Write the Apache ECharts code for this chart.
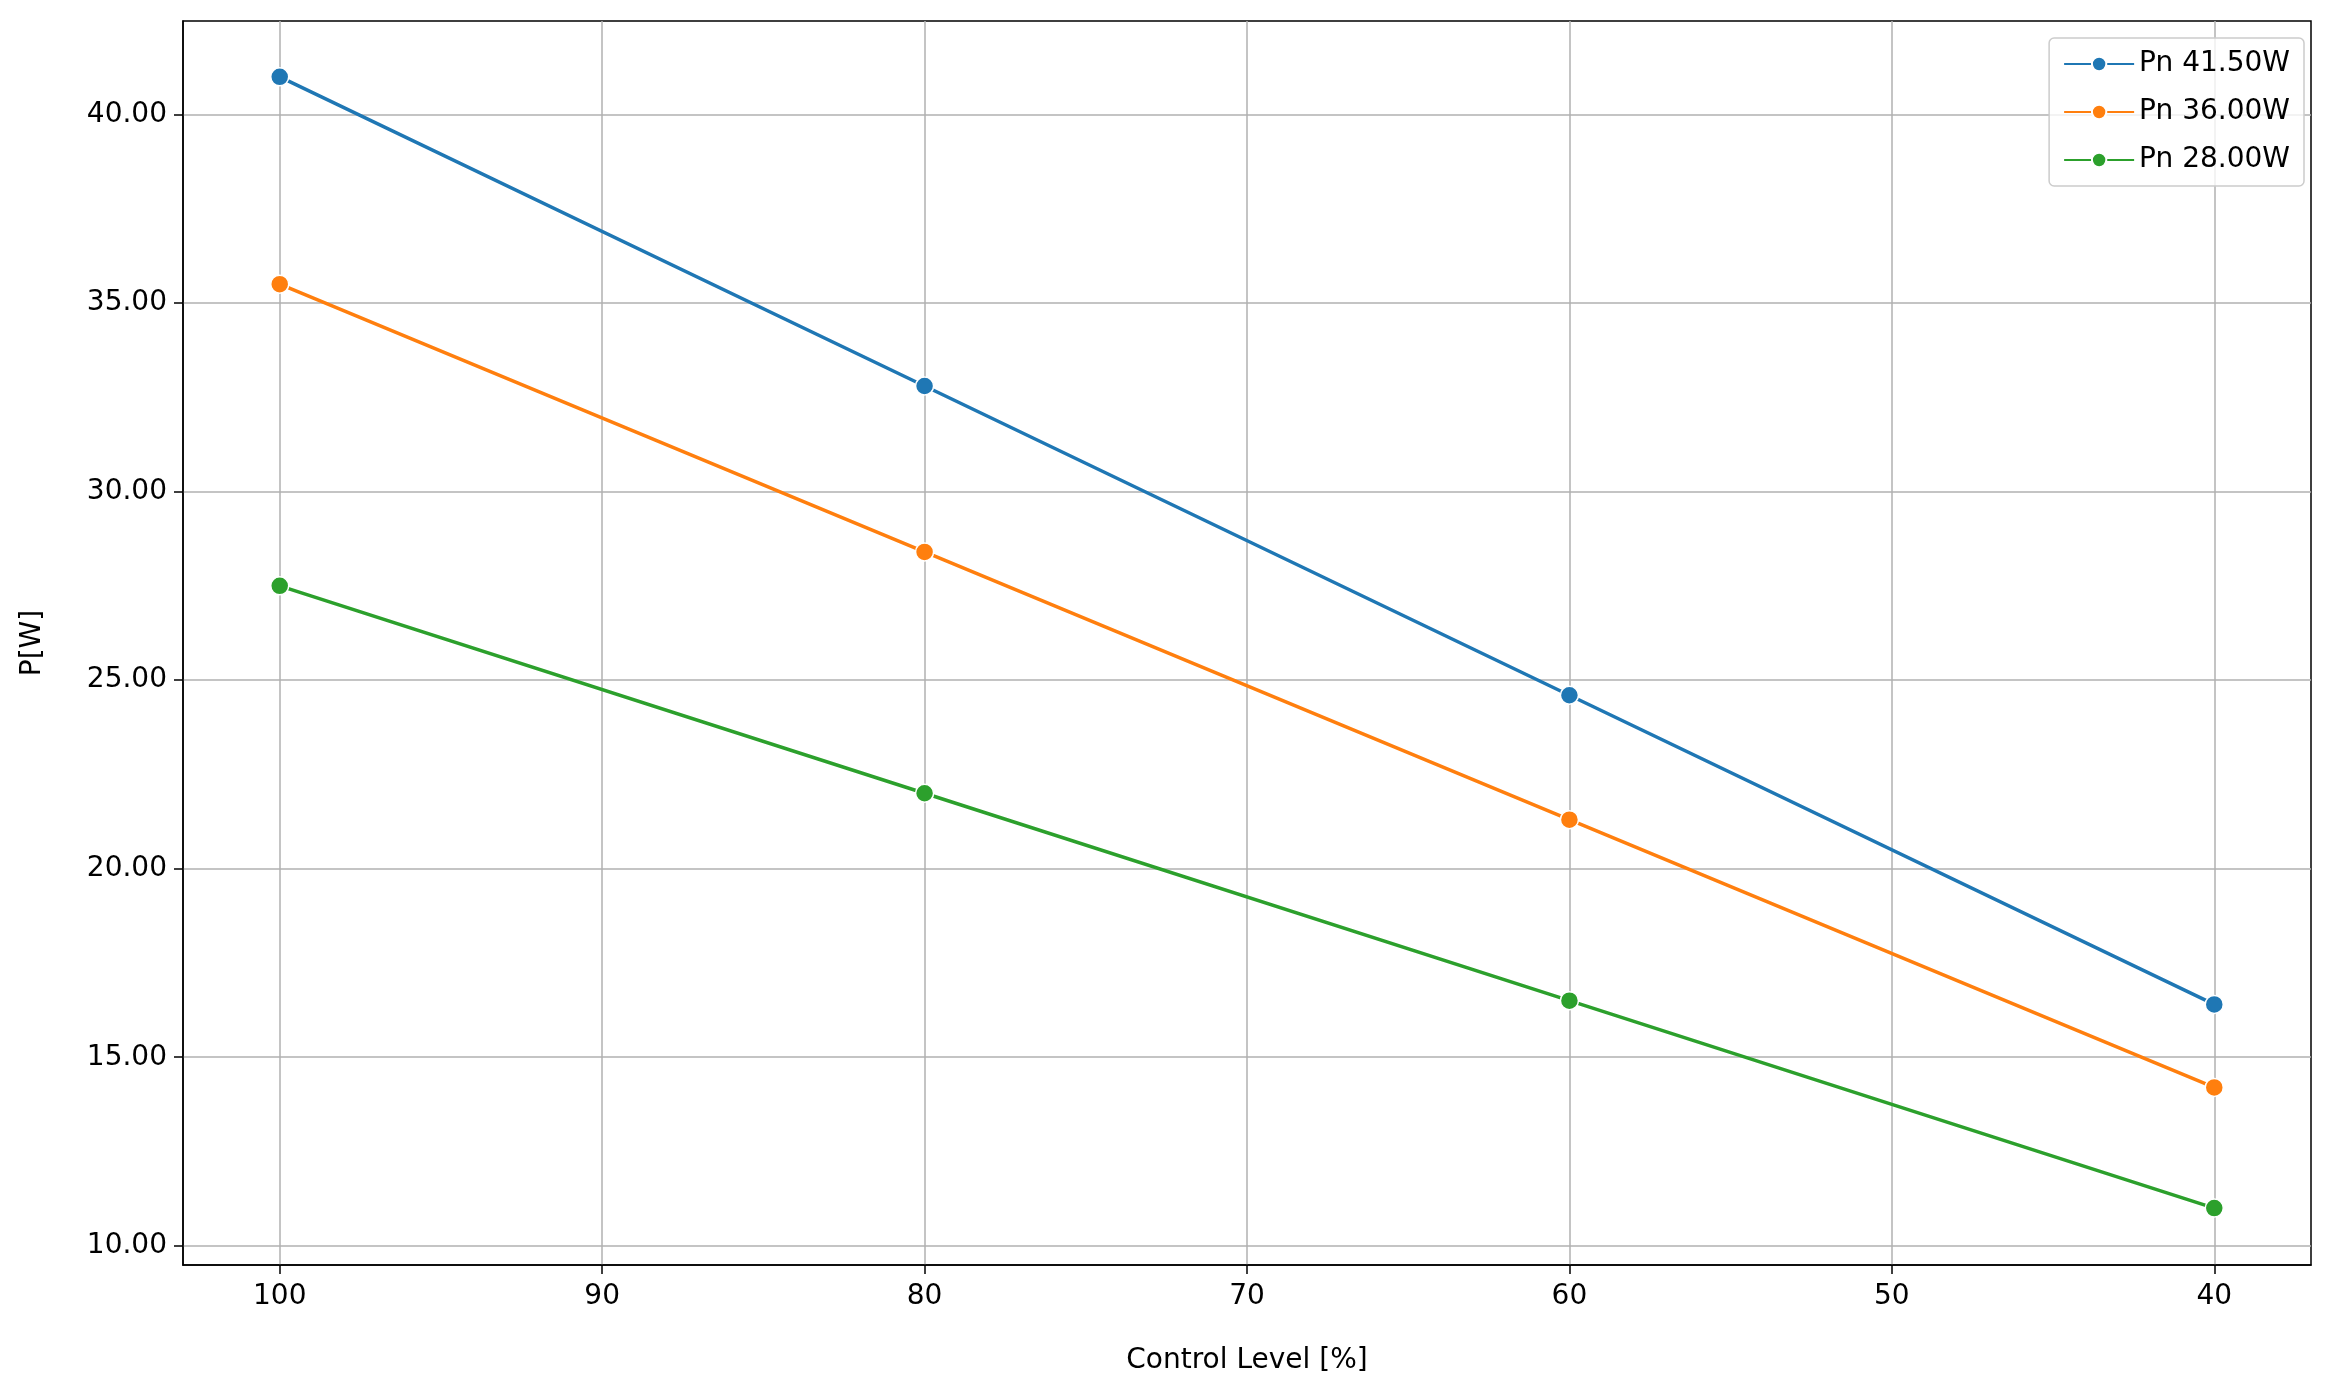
<!DOCTYPE html>
<html>
<head>
<meta charset="UTF-8">
<script src="https://cdn.jsdelivr.net/npm/echarts@6/dist/echarts.min.js"></script>
<style>
  html, body { margin: 0; padding: 0; background: #fff; }
  #chart { width: 2332px; height: 1383px; }
</style>
</head>
<body>
<div id="chart"></div>
<script>
// control levels and measured power per nominal rating
var levels = [100, 80, 60, 40];
var p4150 = [41.0, 32.8, 24.6, 16.4];
var p3600 = [35.5, 28.4, 21.3, 14.2];
var p2800 = [27.5, 22.0, 16.5, 11.0];
var seriesNames = ['Pn 41.50W', 'Pn 36.00W', 'Pn 28.00W'];
var colors = ['#1f77b4', '#ff7f0e', '#2ca02c'];
var xTicks = [100, 90, 80, 70, 60, 50, 40];
var yTicks = [10, 15, 20, 25, 30, 35, 40];

function pairs(vals) {
  return levels.map(function (l, i) { return [l, vals[i]]; });
}

var font = 'DejaVu Sans';
var chart = echarts.init(document.getElementById('chart'));

var series = [p4150, p3600, p2800].map(function (vals, i) {
  return {
    name: seriesNames[i],
    type: 'line',
    data: pairs(vals),
    symbol: 'circle',
    symbolSize: 18,
    lineStyle: { width: 3.5, color: colors[i] },
    itemStyle: { color: colors[i], borderColor: '#fff', borderWidth: 1.5 },
    animation: false
  };
});

chart.setOption({
  animation: false,
  color: colors,
  grid: { left: 183, right: 21, top: 21, bottom: 118, show: true, borderColor: '#000', borderWidth: 1.5 },
  legend: {
    orient: 'vertical',
    right: 28, top: 38,
    padding: [12, 14, 12, 14],
    itemGap: 20,
    itemWidth: 70, itemHeight: 18,
    borderColor: '#cccccc', borderWidth: 1.5, borderRadius: 5,
    backgroundColor: 'rgba(255,255,255,0.8)',
    textStyle: { fontFamily: font, fontSize: 28, color: '#000' },
    data: seriesNames
  },
  xAxis: {
    type: 'value', inverse: true, min: 37.0, max: 103.0,
    name: 'Control Level [%]', nameLocation: 'middle', nameGap: 82,
    nameTextStyle: { fontFamily: font, fontSize: 28, color: '#000' },
    axisLine: { show: true, lineStyle: { color: '#000', width: 1.5 } },
    axisTick: { show: true, customValues: xTicks, length: 9, lineStyle: { color: '#000', width: 1.5 } },
    axisLabel: { customValues: xTicks, fontFamily: font, fontSize: 28, color: '#000', margin: 18 },
    splitLine: { show: true, lineStyle: { color: '#b0b0b0', width: 1.5 } }
  },
  yAxis: {
    type: 'value', min: 9.49, max: 42.48,
    name: 'P[W]', nameLocation: 'middle', nameGap: 136, nameRotate: 90,
    nameTextStyle: { fontFamily: font, fontSize: 28, color: '#000' },
    axisLine: { show: true, lineStyle: { color: '#000', width: 1.5 } },
    axisTick: { show: true, customValues: yTicks, length: 9, lineStyle: { color: '#000', width: 1.5 } },
    axisLabel: {
      customValues: yTicks, fontFamily: font, fontSize: 28, color: '#000', margin: 16,
      formatter: function (v) { return v.toFixed(2); }
    },
    splitLine: { show: true, lineStyle: { color: '#b0b0b0', width: 1.5 } }
  },
  series: series
});
</script>
</body>
</html>
